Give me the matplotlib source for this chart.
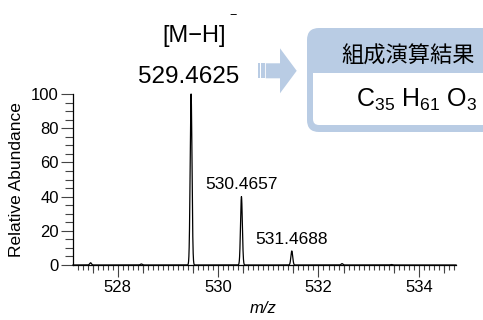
import numpy as np
import matplotlib
matplotlib.use("Agg")
import matplotlib.pyplot as plt
from matplotlib.patches import FancyBboxPatch, Rectangle, Polygon
from matplotlib.ticker import MultipleLocator, FixedLocator

plt.rcParams["font.family"] = ["Liberation Sans", "DejaVu Sans"]
plt.rcParams["mathtext.fontset"] = "custom"
plt.rcParams["mathtext.rm"] = "Liberation Sans"

# Centroid list of the isotope cluster (m/z, relative abundance %)
peak_mz = [527.46, 528.47, 529.4625, 530.4657, 531.4688, 532.47, 533.45]
peak_int = [1.3, 0.6, 100.0, 40.0, 8.2, 0.8, 0.3]

# Peaks annotated with their accurate mass
labeled_mz = [530.4657, 531.4688]
labeled_text = ["530.4657", "531.4688"]

precursor_text = "529.4625"
ion_text = "[M\u2212H]"
result_title = "組成演算結果"
formula_text = r"C$_{\mathregular{35}}$ H$_{\mathregular{61}}$ O$_{\mathregular{3}}$"

x_ticks = [528, 530, 532, 534]
y_ticks = [0, 20, 40, 60, 80, 100]
x_range = (527.11, 534.74)
y_range = (0, 100)

# Profile spectrum built from the centroid list
peak_sigma = 0.018
mz_grid = np.linspace(x_range[0], x_range[1], 8000)
profile = np.zeros_like(mz_grid)
for m, h in zip(peak_mz, peak_int):
    profile += h * np.exp(-0.5 * ((mz_grid - m) / peak_sigma) ** 2)

W, H = 483, 320
fig = plt.figure(figsize=(W / 100, H / 100), dpi=100)
ax = fig.add_axes([73 / W, 1 - 265 / H, (456 - 73) / W, (265 - 94) / H])
ax.patch.set_visible(False)

ax.plot(mz_grid, profile, color="black", lw=0.9, clip_on=False, zorder=3)

ax.set_xlim(*x_range)
ax.set_ylim(*y_range)
for s in ("top", "right"):
    ax.spines[s].set_visible(False)
for s in ("left", "bottom"):
    ax.spines[s].set_linewidth(0.9)
    ax.spines[s].set_color("black")

ax.xaxis.set_major_locator(FixedLocator(x_ticks))
ax.xaxis.set_minor_locator(MultipleLocator(0.1))
ax.yaxis.set_major_locator(FixedLocator(y_ticks))
ax.yaxis.set_minor_locator(MultipleLocator(5))

ax.tick_params(axis="x", which="major", length=8.6, width=0.8, color="#444444",
               labelsize=12, pad=2.5)
ax.tick_params(axis="x", which="minor", length=3.6, width=0.8, color="#444444")
ax.tick_params(axis="y", which="major", length=8.6, width=0.8, color="#444444",
               labelsize=12, pad=1.5)
ax.tick_params(axis="y", which="minor", length=6.0, width=0.8, color="#444444")

# Medium-length ticks on the half mass units
sec = ax.secondary_xaxis("bottom")
sec.set_xticks(np.arange(527.5, 535.0, 1.0))
sec.tick_params(axis="x", which="major", length=5.8, width=0.8, color="#444444",
                labelbottom=False)
sec.tick_params(axis="x", which="minor", length=0)
sec.spines["bottom"].set_visible(False)

ax.set_ylabel("Relative Abundance", fontsize=12.5)
ax.yaxis.set_label_coords(-0.128, 0.5)
ax.set_xlabel("m/z", fontsize=12, style="italic")
ax.xaxis.set_label_coords(0.496, -0.212)

for m, t in zip(labeled_mz, labeled_text):
    h = peak_int[peak_mz.index(m)]
    ax.annotate(t, xy=(m, h), xytext=(0, 3), textcoords="offset points",
                ha="center", va="bottom", fontsize=12.5)

# Header panel drawn in pixel coordinates
deco = fig.add_axes([0, 0, 1, 1], zorder=5)
deco.set_xlim(0, W)
deco.set_ylim(H, 0)
deco.axis("off")
deco.patch.set_visible(False)

blue = "#b9cce4"

deco.text(194.5, 42, ion_text, ha="center", va="baseline", fontsize=17)
deco.text(233, 19, "\u2212", ha="center", va="baseline", fontsize=9)
deco.text(189, 83, precursor_text, ha="center", va="baseline", fontsize=17.5)

# Block arrow with striped tail
for x0, x1 in [(258.3, 260.0), (260.8, 262.5), (263.3, 265.0)]:
    deco.add_patch(Rectangle((x0, 63.3), x1 - x0, 15, facecolor=blue, edgecolor="none"))
deco.add_patch(Polygon([(265.8, 63.3), (280, 63.3), (280, 48.3), (296.7, 70.8),
                        (280, 93.3), (280, 78.3), (265.8, 78.3)],
                       closed=True, facecolor=blue, edgecolor="none"))

# Result box
deco.add_patch(FancyBboxPatch((307, 28), 200, 104,
                              boxstyle="round,pad=0,rounding_size=12",
                              facecolor=blue, edgecolor="none", clip_on=False))
deco.add_patch(FancyBboxPatch((313, 73), 200, 52,
                              boxstyle="round,pad=0,rounding_size=6",
                              facecolor="white", edgecolor="none", clip_on=False))
deco.add_patch(Rectangle((313, 73), 200, 20, facecolor="white", edgecolor="none"))

deco.text(408.5, 56, result_title, ha="center", va="center", fontsize=16,
          family=["Noto Sans CJK JP", "DejaVu Sans"])
deco.text(417, 100, formula_text, ha="center", va="center", fontsize=18)

fig.savefig("out.png", dpi=100)
